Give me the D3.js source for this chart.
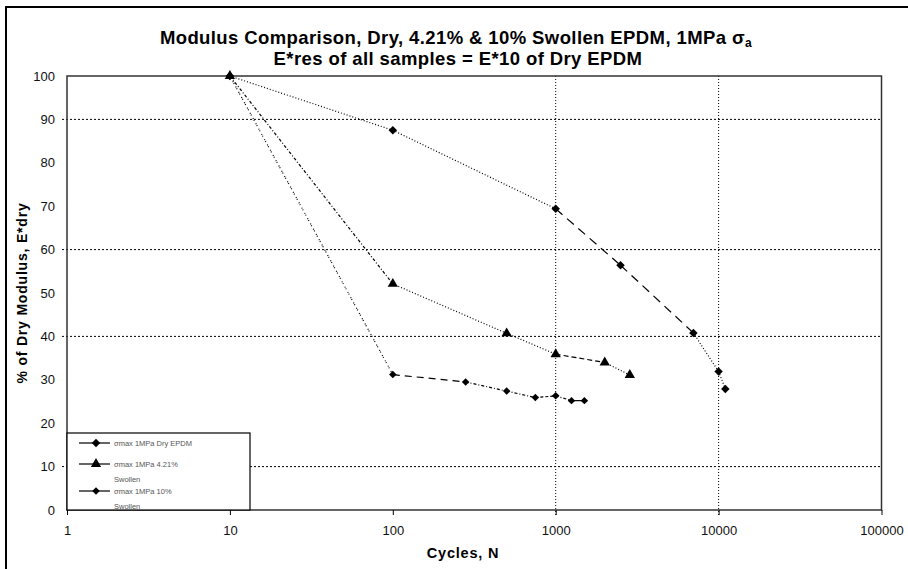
<!DOCTYPE html>
<html>
<head>
<meta charset="utf-8">
<script src="https://cdn.jsdelivr.net/npm/d3@7"></script>
<style>
  body { margin: 0; background: #fff; }
  svg { display: block; font-family: "Liberation Sans", Arial, sans-serif; }
</style>
</head>
<body>
<svg id="chart" width="908" height="569"></svg>
<script>
// --- data ---
var dryCycles = [10, 100, 1000, 2500, 7000, 10000, 11000]
var dryValues = [100, 87.5, 69.4, 56.4, 40.8, 31.9, 27.9]

var lowCycles = [10, 100, 500, 1000, 2000, 2850]
var lowValues = [100, 52.1, 40.7, 35.9, 34.0, 31.1]

var highCycles = [10, 100, 280, 500, 750, 1000, 1250, 1500]
var highValues = [100, 31.2, 29.5, 27.4, 25.9, 26.3, 25.2, 25.2]

var seriesNames = ['σmax 1MPa Dry EPDM', 'σmax 1MPa 4.21% Swollen', 'σmax 1MPa 10% Swollen']
var xTicks = [1, 10, 100, 1000, 10000, 100000]
var yTicks = [0, 10, 20, 30, 40, 50, 60, 70, 80, 90, 100]
var yGrid = [90, 60, 40, 10]
var xGrid = [1000, 10000]

// per-segment line dashes (Excel let each point have its own format)
var dryDash = ['1,2', '1,2', '9,6', '9,6', '1,2', '1,2']
var lowDash = ['3,2,1,2', '1,2', '1,2', '5,3', '1,2']
var highDash = ['1,1,1,3', '7,5', '3,2,1,2', '3,2,1,2', '3,2', '3,2,1,2', null]

var svg = d3.select('#chart')
var m = {left: 67, top: 76, right: 881.5, bottom: 510}

var x = d3.scaleLog().domain([1, 100000]).range([m.left, m.right])
var y = d3.scaleLinear().domain([0, 100]).range([m.bottom, m.top])

// outer chart frame
svg.append('rect')
  .attr('x', 6).attr('y', 7).attr('width', 930).attr('height', 600)
  .attr('fill', 'none').attr('stroke', '#000').attr('stroke-width', 2)

// titles
var t1 = svg.append('text')
  .attr('x', 456).attr('y', 44)
  .attr('text-anchor', 'middle')
  .style('font-size', '18.5px').style('font-weight', 'bold').style('letter-spacing', '0.4px')
t1.append('tspan').text('Modulus Comparison, Dry, 4.21% & 10% Swollen EPDM, 1MPa σ')
t1.append('tspan').text('a').attr('dy', 3).style('font-size', '12px')

svg.append('text')
  .attr('x', 458).attr('y', 65)
  .attr('text-anchor', 'middle')
  .style('font-size', '18.5px').style('font-weight', 'bold').style('letter-spacing', '0.4px')
  .text('E*res of all samples = E*10 of Dry EPDM')

// grid lines
svg.append('g').selectAll('line').data(yGrid).enter().append('line')
  .attr('x1', m.left - 5).attr('x2', m.right)
  .attr('y1', d => y(d)).attr('y2', d => y(d))
  .attr('stroke', '#000').attr('stroke-dasharray', '2,2')

svg.append('g').selectAll('line').data(xGrid).enter().append('line')
  .attr('y1', m.top).attr('y2', m.bottom + 5)
  .attr('x1', d => x(d)).attr('x2', d => x(d))
  .attr('stroke', '#000').attr('stroke-dasharray', '1,2')

// plot frame
svg.append('rect')
  .attr('x', m.left).attr('y', m.top)
  .attr('width', m.right - m.left).attr('height', m.bottom - m.top)
  .attr('fill', 'none').attr('stroke', '#333').attr('stroke-width', 1.5)

// axes
var yAxis = svg.append('g')
  .attr('transform', `translate(${m.left},0)`)
  .call(d3.axisLeft(y).tickValues(yTicks).tickSize(0).tickPadding(12))
yAxis.select('.domain').remove()
yAxis.selectAll('text').style('font-size', '13px').style('font-family', '"Liberation Sans", Arial, sans-serif').attr('fill', '#111')

var xAxis = svg.append('g')
  .attr('transform', `translate(0,${m.bottom})`)
  .call(d3.axisBottom(x).tickValues(xTicks).tickFormat(d3.format('d')).tickSize(5).tickPadding(11))
xAxis.select('.domain').remove()
xAxis.selectAll('text').style('font-size', '13px').style('font-family', '"Liberation Sans", Arial, sans-serif').attr('fill', '#111')
xAxis.selectAll('line').attr('stroke', '#000')

// axis titles
svg.append('text')
  .attr('x', 463).attr('y', 558)
  .attr('text-anchor', 'middle')
  .style('font-size', '14.5px').style('font-weight', 'bold').style('letter-spacing', '0.8px')
  .text('Cycles, N')

svg.append('text')
  .attr('transform', 'translate(27,293) rotate(-90)')
  .attr('text-anchor', 'middle')
  .style('font-size', '14px').style('font-weight', 'bold').style('letter-spacing', '0.8px')
  .text('% of Dry Modulus, E*dry')

// series
var series = [
  {cycles: dryCycles, values: dryValues, dash: dryDash, marker: d3.symbolSquare, size: 36, rot: 45},
  {cycles: lowCycles, values: lowValues, dash: lowDash, marker: d3.symbolTriangle, size: 46, rot: 0},
  {cycles: highCycles, values: highValues, dash: highDash, marker: d3.symbolSquare, size: 28, rot: 45}
]

var plot = svg.append('g')
series.forEach(function (s) {
  var pts = s.cycles.map((c, i) => [x(c), y(s.values[i])])
  var segs = d3.pairs(pts)
  plot.append('g').selectAll('line').data(segs).enter().append('line')
    .attr('x1', d => d[0][0]).attr('y1', d => d[0][1])
    .attr('x2', d => d[1][0]).attr('y2', d => d[1][1])
    .attr('stroke', '#000').attr('stroke-width', 1.2)
    .attr('stroke-dasharray', (d, i) => s.dash[i])

  plot.append('g').selectAll('path').data(pts).enter().append('path')
    .attr('transform', d => `translate(${d[0]},${d[1]}) rotate(${s.rot})`)
    .attr('d', d3.symbol().type(s.marker).size(s.size))
    .attr('fill', '#000')
})

// legend
var lg = svg.append('g')
lg.append('rect')
  .attr('x', m.left).attr('y', 433).attr('width', 183).attr('height', m.bottom - 433)
  .attr('fill', '#fff').attr('stroke', '#000').attr('stroke-width', 1.2)

var legendRows = [443, 464, 491]
seriesNames.forEach(function (name, i) {
  var ly = legendRows[i]
  lg.append('line')
    .attr('x1', 79).attr('x2', 110).attr('y1', ly).attr('y2', ly)
    .attr('stroke', '#000').attr('stroke-width', 1.2)
  lg.append('path')
    .attr('transform', `translate(96,${ly}) rotate(${series[i].rot})`)
    .attr('d', d3.symbol().type(series[i].marker).size(series[i].size))
  var words = i === 0 ? [name] : [name.replace(' Swollen', ''), 'Swollen']
  var tx = lg.append('text').attr('x', 114).attr('y', ly + 3)
    .style('font-size', '7.5px').attr('fill', '#555')
  words.forEach((w, j) => tx.append('tspan').attr('x', 114).attr('dy', j ? 15 : 0).text(w))
})
</script>
</body>
</html>
